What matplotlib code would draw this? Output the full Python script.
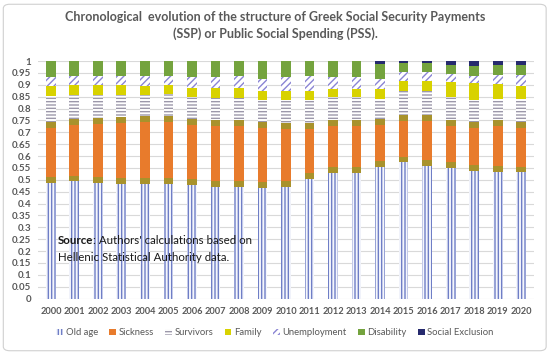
import numpy as np
import matplotlib.pyplot as plt
from matplotlib.patches import FancyBboxPatch

plt.rcParams['font.family'] = ['Lato', 'DejaVu Sans']
plt.rcParams['hatch.linewidth'] = 1.0

years = [str(y) for y in range(2000, 2021)]

# shares of total spending
old_age = [0.488, 0.493, 0.487, 0.482, 0.482, 0.482, 0.479, 0.470, 0.470, 0.467, 0.470,
           0.503, 0.530, 0.527, 0.555, 0.573, 0.559, 0.548, 0.538, 0.534, 0.531]
sickness = [0.255, 0.264, 0.273, 0.282, 0.286, 0.286, 0.278, 0.283, 0.280, 0.276, 0.269,
            0.236, 0.220, 0.223, 0.202, 0.201, 0.212, 0.202, 0.205, 0.216, 0.214]
survivors = [0.108, 0.098, 0.095, 0.093, 0.090, 0.094, 0.091, 0.092, 0.095, 0.095, 0.099,
             0.095, 0.098, 0.098, 0.084, 0.102, 0.105, 0.098, 0.095, 0.091, 0.096]
family = [0.043, 0.045, 0.045, 0.043, 0.039, 0.038, 0.038, 0.041, 0.041, 0.038, 0.038,
          0.042, 0.035, 0.035, 0.042, 0.042, 0.042, 0.063, 0.070, 0.063, 0.053]
unemployment = [0.038, 0.036, 0.035, 0.035, 0.039, 0.036, 0.046, 0.046, 0.049, 0.049, 0.056,
                0.059, 0.049, 0.049, 0.042, 0.035, 0.035, 0.035, 0.031, 0.039, 0.049]
disability = [0.068, 0.064, 0.065, 0.065, 0.064, 0.064, 0.068, 0.068, 0.065, 0.075, 0.068,
              0.065, 0.068, 0.068, 0.063, 0.039, 0.037, 0.039, 0.039, 0.040, 0.040]
social_exclusion = [0, 0, 0, 0, 0, 0, 0, 0, 0, 0, 0,
                    0, 0, 0, 0.012, 0.008, 0.010, 0.015, 0.022, 0.017, 0.017]

grey = '#595959'

fig = plt.figure(figsize=(5.5, 3.55), dpi=100)
ax = fig.add_axes([0.069, 0.159, 0.902, 0.669])

x = np.arange(len(years))
w = 0.42
bottom = np.zeros(len(years))
handles = []

b = ax.bar(x, old_age, w, bottom=bottom, color='#f4f6fc', edgecolor='#6f7ec6',
           hatch='|||||', linewidth=0)
handles.append(b)
bottom += old_age

# sickness: olive band top and bottom, orange body
s = np.array(sickness)
ax.bar(x, s, w, bottom=bottom, color='#a8922c', linewidth=0)
b = ax.bar(x, s - 0.05, w, bottom=bottom + 0.025, color='#e87b2c', linewidth=0)
handles.append(b)
bottom += s

b = ax.bar(x, survivors, w, bottom=bottom, color='white', edgecolor='#9c98aa',
           hatch='-----', linewidth=0)
handles.append(b)
bottom += survivors

b = ax.bar(x, family, w, bottom=bottom, color='#d8d200', linewidth=0)
handles.append(b)
bottom += family

b = ax.bar(x, unemployment, w, bottom=bottom, color='white', edgecolor='#8a84d4',
           hatch='/////', linewidth=0)
handles.append(b)
bottom += unemployment

b = ax.bar(x, disability, w, bottom=bottom, color='#74a33e', linewidth=0)
handles.append(b)
bottom += disability

b = ax.bar(x, social_exclusion, w, bottom=bottom, color='#262a6e', linewidth=0)
handles.append(b)

labels = ['Old age', 'Sickness', 'Survivors', 'Family', 'Unemployment',
          'Disability', 'Social Exclusion']

ax.set_xlim(-0.55, len(years) - 0.45)
ax.set_ylim(0, 1)
yt = np.round(np.arange(0, 1.0001, 0.05), 2)
ax.set_yticks(yt)
ax.set_yticklabels([f'{v:g}' for v in yt])
ax.set_xticks(x)
ax.set_xticklabels(years)
ax.tick_params(axis='y', length=0, labelsize=7, labelcolor=grey, pad=5)
ax.tick_params(axis='x', length=0, labelsize=6.7, labelcolor=grey, pad=6)
for t in ax.get_xticklabels() + ax.get_yticklabels():
    t.set_fontweight('bold')
ax.grid(axis='y', color='#d9d9d9', linewidth=0.8)
ax.set_axisbelow(True)
for sp in ax.spines.values():
    sp.set_visible(False)

fig.text(0.5, 0.968, 'Chronological  evolution of the structure of Greek Social Security Payments\n'
         '(SSP) or Public Social Spending (PSS).', ha='center', va='top',
         fontsize=9, fontweight='bold', color=grey, linespacing=1.4)

t1 = fig.text(0.105, 0.312, 'Source', fontsize=8.3, fontweight='bold', color='#1a1a1a',
              va='baseline')
ax.annotate(": Authors' calculations based on", xy=(1, 0), xycoords=t1,
            fontsize=8.3, color='#1a1a1a', va='bottom')
fig.text(0.105, 0.265, 'Hellenic Statistical Authority data.', fontsize=8.3,
         color='#1a1a1a', va='baseline')

fig.legend([h[0] for h in handles], labels, loc='center', bbox_to_anchor=(0.5, 0.062),
           ncol=7, frameon=False, fontsize=6.8, labelcolor=grey, handlelength=0.7,
           handleheight=0.7, handletextpad=0.3, columnspacing=1.2)

fig.add_artist(FancyBboxPatch((0.006, 0.012), 0.987, 0.976,
                              boxstyle='round,pad=0,rounding_size=0.012',
                              transform=fig.transFigure, fill=False,
                              ec='#d0d0d0', lw=0.8))

fig.savefig('out.png', dpi=100)
